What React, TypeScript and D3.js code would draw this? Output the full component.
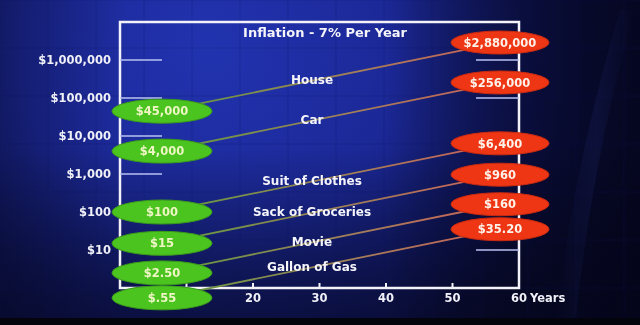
import React from "react";
import * as d3 from "d3";

const items = ["House", "Car", "Suit of Clothes", "Sack of Groceries", "Movie", "Gallon of Gas"];
const startValues = [45000, 4000, 100, 15, 2.5, 0.55];
const startLabels = ["$45,000", "$4,000", "$100", "$15", "$2.50", "$.55"];
const endValues = [2880000, 256000, 6400, 960, 160, 35.2];
const endLabels = ["$2,880,000", "$256,000", "$6,400", "$960", "$160", "$35.20"];
const yTicks = [10, 100, 1000, 10000, 100000, 1000000];
const yTickLabels = ["$10", "$100", "$1,000", "$10,000", "$100,000", "$1,000,000"];
const xTicks = [10, 20, 30, 40, 50, 60];
const xTickLabels = ["", "20", "30", "40", "50", "60"];
const title = "Inflation - 7% Per Year";
const xUnit = "Years";

const W = 640;
const H = 325;
const FONT = "'DejaVu Sans', Verdana, sans-serif";

export default function App() {
  const x = d3.scaleLinear().domain([0, 60]).range([120, 519]);
  const y = d3.scaleLog().domain([1, 1e7]).range([288, 22]);

  const gx = x(0) + 42;
  const rx = x(60) - 19;
  const labelFrac = 0.444;

  return (
    <svg
      width={W}
      height={H}
      style={{ position: "fixed", left: 0, top: 0, display: "block" }}
    >
      <defs>
        <radialGradient id="bg" cx="210" cy="50" r="540" gradientUnits="userSpaceOnUse">
          <stop offset="0" stopColor="#2233b0" />
          <stop offset="0.35" stopColor="#1b2896" />
          <stop offset="0.6" stopColor="#111866" />
          <stop offset="0.8" stopColor="#0a0d36" />
          <stop offset="1" stopColor="#05061a" />
        </radialGradient>
        <linearGradient id="bgTop" x1="0" y1="0" x2="0" y2="1">
          <stop offset="0" stopColor="#000" stopOpacity="0" />
          <stop offset="0.45" stopColor="#000" stopOpacity="0" />
          <stop offset="1" stopColor="#05061c" stopOpacity="0.6" />
        </linearGradient>
        <linearGradient id="bgLeft" x1="0" y1="0" x2="1" y2="0">
          <stop offset="0" stopColor="#05061c" stopOpacity="0.35" />
          <stop offset="0.2" stopColor="#05061c" stopOpacity="0" />
          <stop offset="1" stopColor="#05061c" stopOpacity="0" />
        </linearGradient>
        <linearGradient id="bgRight" x1="0" y1="0" x2="1" y2="0">
          <stop offset="0" stopColor="#000" stopOpacity="0" />
          <stop offset="0.6" stopColor="#000" stopOpacity="0" />
          <stop offset="0.85" stopColor="#04051a" stopOpacity="0.6" />
          <stop offset="1" stopColor="#04051a" stopOpacity="0.75" />
        </linearGradient>
        <linearGradient id="streak" x1="0" y1="0" x2="1" y2="0">
          <stop offset="0" stopColor="#3a46b0" stopOpacity="0" />
          <stop offset="0.5" stopColor="#3a46b0" stopOpacity="0.12" />
          <stop offset="1" stopColor="#3a46b0" stopOpacity="0" />
        </linearGradient>
        {items.map((_, i) => (
          <linearGradient
            key={i}
            id={`ln${i}`}
            gradientUnits="userSpaceOnUse"
            x1={gx}
            y1={y(startValues[i])}
            x2={rx}
            y2={y(endValues[i])}
          >
            <stop offset="0" stopColor="#5e9a3e" />
            <stop offset="0.5" stopColor="#9a8258" />
            <stop offset="1" stopColor="#cc605a" />
          </linearGradient>
        ))}
      </defs>

      {/* background */}
      <rect x={0} y={0} width={W} height={H} fill="url(#bg)" />
      <rect x={0} y={0} width={W} height={H} fill="url(#bgTop)" />
      <rect x={0} y={0} width={W} height={H} fill="url(#bgLeft)" />
      <rect x={0} y={0} width={W} height={H} fill="url(#bgRight)" />
      <g stroke="#0d1660" strokeOpacity={0.22} strokeWidth={1}>
        {d3.range(0, W, 48).map((v) => (
          <line key={`v${v}`} x1={v} y1={0} x2={v} y2={H} />
        ))}
        {d3.range(0, H, 48).map((v) => (
          <line key={`h${v}`} x1={0} y1={v} x2={W} y2={v} />
        ))}
      </g>
      <path d="M 620 10 Q 575 160 555 325 L 575 325 Q 592 160 635 10 Z" fill="url(#streak)" />
      <rect x={0} y={318} width={W} height={H - 318} fill="#04040c" />

      {/* frame */}
      <g stroke="#f2f2f8" strokeWidth={2.5} fill="none">
        <rect x={x(0)} y={y(1e7)} width={x(60) - x(0)} height={y(1) - y(1e7)} />
      </g>

      {/* y ticks */}
      <g stroke="#b8c2f2" strokeWidth={1.5}>
        {yTicks.map((t) => (
          <g key={t}>
            <line x1={x(0)} x2={x(0) + 42} y1={y(t)} y2={y(t)} />
            <line x1={x(60) - 43} x2={x(60)} y1={y(t)} y2={y(t)} />
          </g>
        ))}
      </g>
      <g fill="#f0f0f8" fontFamily={FONT} fontWeight="bold" fontSize={11.5} textAnchor="end">
        {yTicks.map((t, i) => (
          <text key={t} x={x(0) - 9} y={y(t)} dy="0.36em">
            {yTickLabels[i]}
          </text>
        ))}
      </g>

      {/* x ticks */}
      <g stroke="#f2f2f8" strokeWidth={2}>
        {xTicks.map((t) => (
          <line key={t} x1={x(t)} x2={x(t)} y1={y(1) - 5} y2={y(1)} />
        ))}
      </g>
      <g fill="#f0f0f8" fontFamily={FONT} fontWeight="bold" fontSize={11.5} textAnchor="middle">
        {xTicks.map((t, i) => (
          <text key={t} x={x(t)} y={y(1) + 10} dy="0.36em">
            {xTickLabels[i]}
          </text>
        ))}
        <text x={x(60) + 11} y={y(1) + 10} dy="0.36em" textAnchor="start">
          {xUnit}
        </text>
      </g>

      {/* title */}
      <text
        x={325}
        y={y(1e7) + 10}
        dy="0.36em"
        textAnchor="middle"
        fill="#f4f4fa"
        fontFamily={FONT}
        fontWeight="bold"
        fontSize={13}
      >
        {title}
      </text>

      {/* connector lines */}
      {items.map((_, i) => (
        <line
          key={i}
          x1={gx}
          y1={y(startValues[i])}
          x2={rx}
          y2={y(endValues[i])}
          stroke={`url(#ln${i})`}
          strokeWidth={1.8}
        />
      ))}

      {/* item labels */}
      <g fill="#f4f4fa" fontFamily={FONT} fontWeight="bold" fontSize={12} textAnchor="middle">
        {items.map((name, i) => {
          const y0 = y(startValues[i]);
          const y1 = y(endValues[i]);
          return (
            <text key={name} x={312} y={y0 + (y1 - y0) * labelFrac} dy="0.3em">
              {name}
            </text>
          );
        })}
      </g>

      {/* start ellipses */}
      {startValues.map((v, i) => (
        <g key={`s${i}`}>
          <ellipse cx={gx} cy={y(v)} rx={50} ry={12} fill="#4cc420" stroke="#3a9a1a" strokeWidth={1} />
          <text
            x={gx}
            y={y(v)}
            dy="0.36em"
            textAnchor="middle"
            fill="#eef6c4"
            fontFamily={FONT}
            fontWeight="bold"
            fontSize={11.5}
          >
            {startLabels[i]}
          </text>
        </g>
      ))}

      {/* end ellipses */}
      {endValues.map((v, i) => (
        <g key={`e${i}`}>
          <ellipse cx={rx} cy={y(v)} rx={49} ry={11.5} fill="#ee3614" stroke="#c82a10" strokeWidth={1} />
          <text
            x={rx}
            y={y(v)}
            dy="0.36em"
            textAnchor="middle"
            fill="#fff2ea"
            fontFamily={FONT}
            fontWeight="bold"
            fontSize={11.5}
          >
            {endLabels[i]}
          </text>
        </g>
      ))}
    </svg>
  );
}
